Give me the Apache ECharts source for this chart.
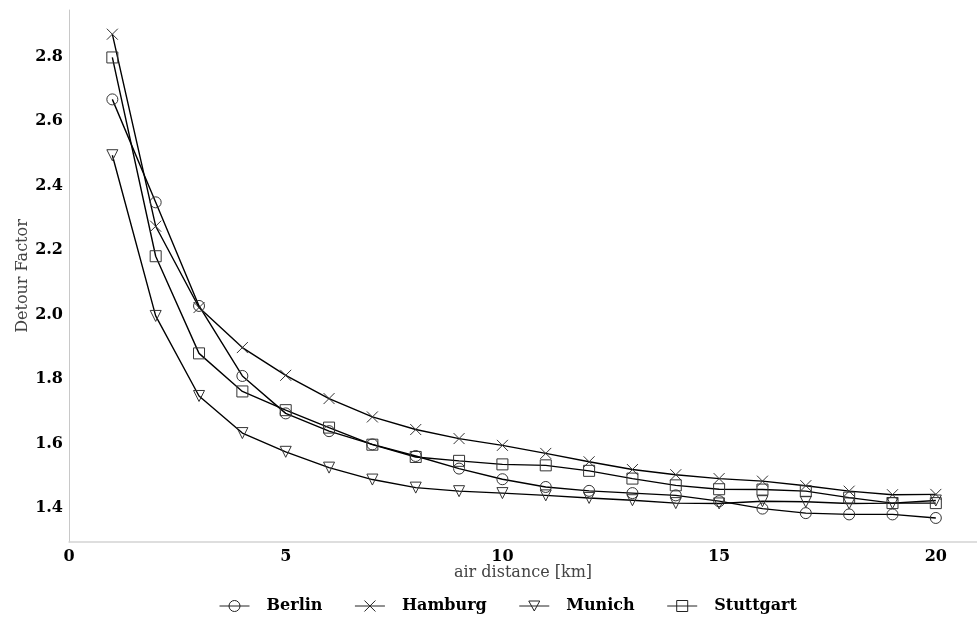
<!DOCTYPE html>
<html>
<head>
<meta charset="utf-8">
<script src="https://cdn.jsdelivr.net/npm/echarts@6/dist/echarts.min.js"></script>
<style>
  html, body { margin: 0; padding: 0; background: #fff; }
  #chart { width: 977px; height: 617px; }
</style>
</head>
<body>
<div id="chart"></div>
<script>
// ---- data ----
const distance = [1, 2, 3, 4, 5, 6, 7, 8, 9, 10, 11, 12, 13, 14, 15, 16, 17, 18, 19, 20];
const berlin    = [2.667, 2.348, 2.027, 1.810, 1.694, 1.639, 1.598, 1.562, 1.523, 1.490, 1.466, 1.454, 1.447, 1.440, 1.422, 1.399, 1.385, 1.381, 1.381, 1.370];
const hamburg   = [2.869, 2.274, 2.022, 1.898, 1.812, 1.740, 1.683, 1.644, 1.616, 1.595, 1.570, 1.544, 1.520, 1.504, 1.492, 1.484, 1.470, 1.453, 1.442, 1.443];
const munich    = [2.494, 1.996, 1.748, 1.633, 1.575, 1.526, 1.489, 1.464, 1.453, 1.447, 1.440, 1.432, 1.425, 1.416, 1.415, 1.422, 1.420, 1.415, 1.416, 1.424];
const stuttgart = [2.797, 2.181, 1.880, 1.762, 1.704, 1.650, 1.597, 1.559, 1.547, 1.536, 1.533, 1.516, 1.492, 1.471, 1.459, 1.458, 1.453, 1.433, 1.416, 1.416];
const seriesNames = ['Berlin', 'Hamburg', 'Munich', 'Stuttgart'];
const xTicks = [0, 5, 10, 15, 20];
const yTicks = [1.4, 1.6, 1.8, 2.0, 2.2, 2.4, 2.6, 2.8];

// ---- styling ----
const FONT = 'DejaVu Serif';
const symbols = {
  Berlin: 'circle',
  Hamburg: 'path://M0,0L10,10M0,10L10,0',
  Munich: 'path://M0,0L10,0L5,9Z',
  Stuttgart: 'rect'
};
// legend handles: line with the marker drawn over it (30 x 11 box)
const legendIcons = {
  Berlin: 'path://M0,5.5L30,5.5M20.5,5.5A5.5,5.5,0,1,1,9.5,5.5A5.5,5.5,0,1,1,20.5,5.5',
  Hamburg: 'path://M0,5.5L30,5.5M9.5,0L20.5,11M9.5,11L20.5,0',
  Munich: 'path://M0,5.5L30,5.5M9.5,0.5L20.5,0.5L15,10.5Z',
  Stuttgart: 'path://M0,5.5L30,5.5M9.5,0L20.5,0L20.5,11L9.5,11Z'
};
const values = { Berlin: berlin, Hamburg: hamburg, Munich: munich, Stuttgart: stuttgart };
const markerStyle = { color: 'rgba(0,0,0,0)', borderColor: '#333', borderWidth: 1 };

function mkSeries(name) {
  return {
    name: name,
    type: 'line',
    data: distance.map((d, i) => [d, values[name][i]]),
    symbol: symbols[name],
    symbolSize: 11,
    showAllSymbol: true,
    lineStyle: { color: '#000', width: 1.4 },
    itemStyle: markerStyle,
    emphasis: { disabled: true },
    animation: false
  };
}

const chart = echarts.init(document.getElementById('chart'), null, { renderer: 'canvas' });
chart.setOption({
  animation: false,
  backgroundColor: '#fff',
  grid: { left: 69, right: 0, top: 10, bottom: 75, containLabel: false },
  legend: {
    top: 593,
    left: 214,
    itemWidth: 30,
    itemHeight: 11,
    itemGap: 32,
    data: seriesNames.map(n => ({ name: n, icon: legendIcons[n] })),
    itemStyle: { color: 'rgba(0,0,0,0)', borderColor: '#222', borderWidth: 1 },
    textStyle: { fontFamily: FONT, fontWeight: 'bold', fontSize: 16, color: '#000', padding: [0, 0, 0, 12] }
  },
  xAxis: {
    type: 'value',
    min: 0,
    max: 20.95,
    name: 'air distance [km]',
    nameLocation: 'middle',
    nameGap: 23,
    nameMoveOverlap: false,
    nameTextStyle: { fontFamily: FONT, fontSize: 16, color: '#444' },
    axisLine: { show: true, lineStyle: { color: '#d4d4d4', width: 1.5 } },
    axisTick: { show: false },
    splitLine: { show: false },
    axisLabel: {
      fontFamily: FONT, fontWeight: 'bold', fontSize: 16, color: '#000', margin: 7,
      customValues: xTicks,
      formatter: v => String(v)
    }
  },
  yAxis: {
    type: 'value',
    min: 1.2955,
    max: 2.944,
    name: 'Detour Factor',
    nameLocation: 'middle',
    nameGap: 38,
    nameMoveOverlap: false,
    nameTextStyle: { fontFamily: FONT, fontSize: 16, color: '#444' },
    axisLine: { show: true, lineStyle: { color: '#c8c8c8', width: 1 } },
    axisTick: { show: false },
    splitLine: { show: false },
    axisLabel: {
      fontFamily: FONT, fontWeight: 'bold', fontSize: 16, color: '#000', margin: 6,
      padding: [3, 0, 0, 0],
      customValues: yTicks,
      formatter: v => v.toFixed(1)
    }
  },
  series: seriesNames.map(mkSeries)
});
</script>
</body>
</html>
